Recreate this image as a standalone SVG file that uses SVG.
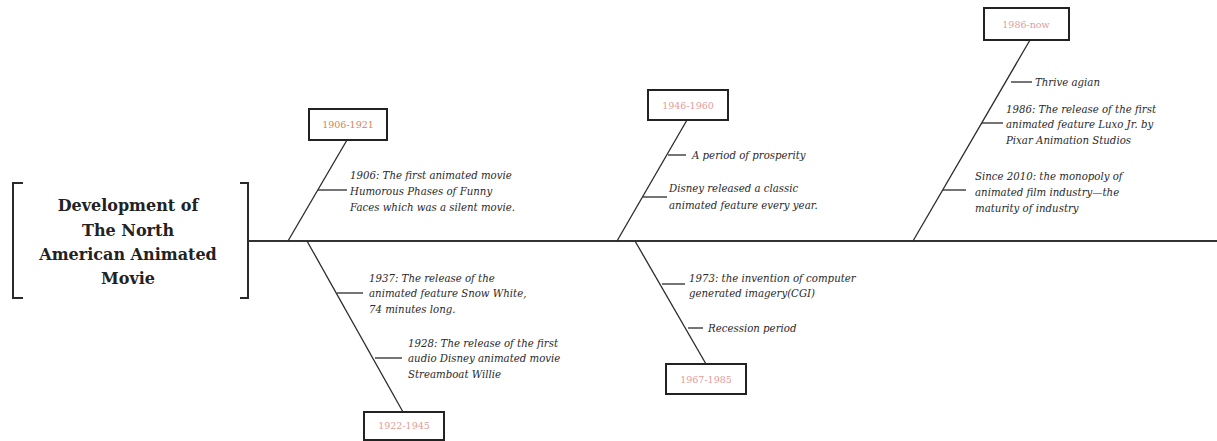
<svg xmlns="http://www.w3.org/2000/svg" width="1217" height="441" viewBox="0 0 1217 441">
<style>
.ln{stroke:#2a2a2a;stroke-width:1.3;fill:none}
.sp{stroke:#333;stroke-width:2.2;fill:none}
.bx{fill:#fff;stroke:#222;stroke-width:2}
.yr{font-family:"DejaVu Serif","Liberation Serif",serif;font-size:9.5px;text-anchor:middle;fill:#e39c9c}
.yo{fill:#d4845e}
.t{font-family:"DejaVu Serif","Liberation Serif",serif;font-size:10.2px;font-style:italic;fill:#2a2a2a}
.ti{font-family:"DejaVu Serif","Liberation Serif",serif;font-size:16px;font-weight:bold;text-anchor:middle;fill:#222}
</style>
<rect width="1217" height="441" fill="#fff"/>
<g id="title">
<path class="ln" style="stroke-width:2" d="M23,183 H13 V298 H23 M240,183 H248 V298 H240"/>
<text class="ti" x="128" y="211">Development of</text>
<text class="ti" x="128" y="236">The North</text>
<text class="ti" x="128" y="260">American Animated</text>
<text class="ti" x="128" y="284">Movie</text>
</g>
<g id="connectors">
<line class="sp" x1="248" y1="241" x2="1217" y2="241"/>
<line class="ln" x1="347" y1="140" x2="288" y2="241"/>
<line class="ln" x1="318" y1="190" x2="347" y2="190"/>
<line class="ln" x1="307" y1="241" x2="403" y2="412"/>
<line class="ln" x1="337" y1="293" x2="363" y2="293"/>
<line class="ln" x1="375" y1="358" x2="402" y2="358"/>
<line class="ln" x1="687" y1="120" x2="617" y2="241"/>
<line class="ln" x1="668" y1="155" x2="686" y2="155"/>
<line class="ln" x1="643" y1="197" x2="667" y2="197"/>
<line class="ln" x1="635" y1="241" x2="706" y2="364"/>
<line class="ln" x1="662" y1="284" x2="685" y2="284"/>
<line class="ln" x1="688" y1="328" x2="703" y2="328"/>
<line class="ln" x1="1030" y1="40" x2="913" y2="241"/>
<line class="ln" x1="1011" y1="82" x2="1032" y2="82"/>
<line class="ln" x1="982" y1="123" x2="1003" y2="123"/>
<line class="ln" x1="943" y1="190" x2="966" y2="190"/>
</g>
<g id="p1906">
<rect class="bx" x="309" y="109" width="78" height="31"/>
<text class="yr yo" x="348" y="128">1906-1921</text>
<text class="t" x="350" y="179">1906: The first animated movie</text>
<text class="t" x="350" y="195">Humorous Phases of Funny</text>
<text class="t" x="350" y="211">Faces which was a silent movie.</text>
</g>
<g id="p1922">
<rect class="bx" x="364" y="412" width="80" height="28"/>
<text class="yr" x="404" y="429">1922-1945</text>
<text class="t" x="369" y="282">1937: The release of the</text>
<text class="t" x="369" y="297">animated feature Snow White,</text>
<text class="t" x="369" y="313">74 minutes long.</text>
<text class="t" x="408" y="347">1928: The release of the first</text>
<text class="t" x="408" y="362">audio Disney animated movie</text>
<text class="t" x="408" y="378">Streamboat Willie</text>
</g>
<g id="p1946">
<rect class="bx" x="648" y="90" width="80" height="30"/>
<text class="yr" x="688" y="109">1946-1960</text>
<text class="t" x="692" y="159">A period of prosperity</text>
<text class="t" x="669" y="192">Disney released a classic</text>
<text class="t" x="669" y="209">animated feature every year.</text>
</g>
<g id="p1967">
<rect class="bx" x="666" y="364" width="80" height="30"/>
<text class="yr" x="706" y="383">1967-1985</text>
<text class="t" x="689" y="282">1973: the invention of computer</text>
<text class="t" x="689" y="297">generated imagery(CGI)</text>
<text class="t" x="708" y="332">Recession period</text>
</g>
<g id="p1986">
<rect class="bx" x="984" y="8" width="85" height="32"/>
<text class="yr" x="1026" y="28">1986-now</text>
<text class="t" x="1035" y="86">Thrive agian</text>
<text class="t" x="1006" y="113">1986: The release of the first</text>
<text class="t" x="1006" y="128">animated feature Luxo Jr. by</text>
<text class="t" x="1006" y="144">Pixar Animation Studios</text>
<text class="t" x="975" y="180">Since 2010: the monopoly of</text>
<text class="t" x="975" y="196">animated film industry—the</text>
<text class="t" x="975" y="212">maturity of industry</text>
</g>
</svg>
